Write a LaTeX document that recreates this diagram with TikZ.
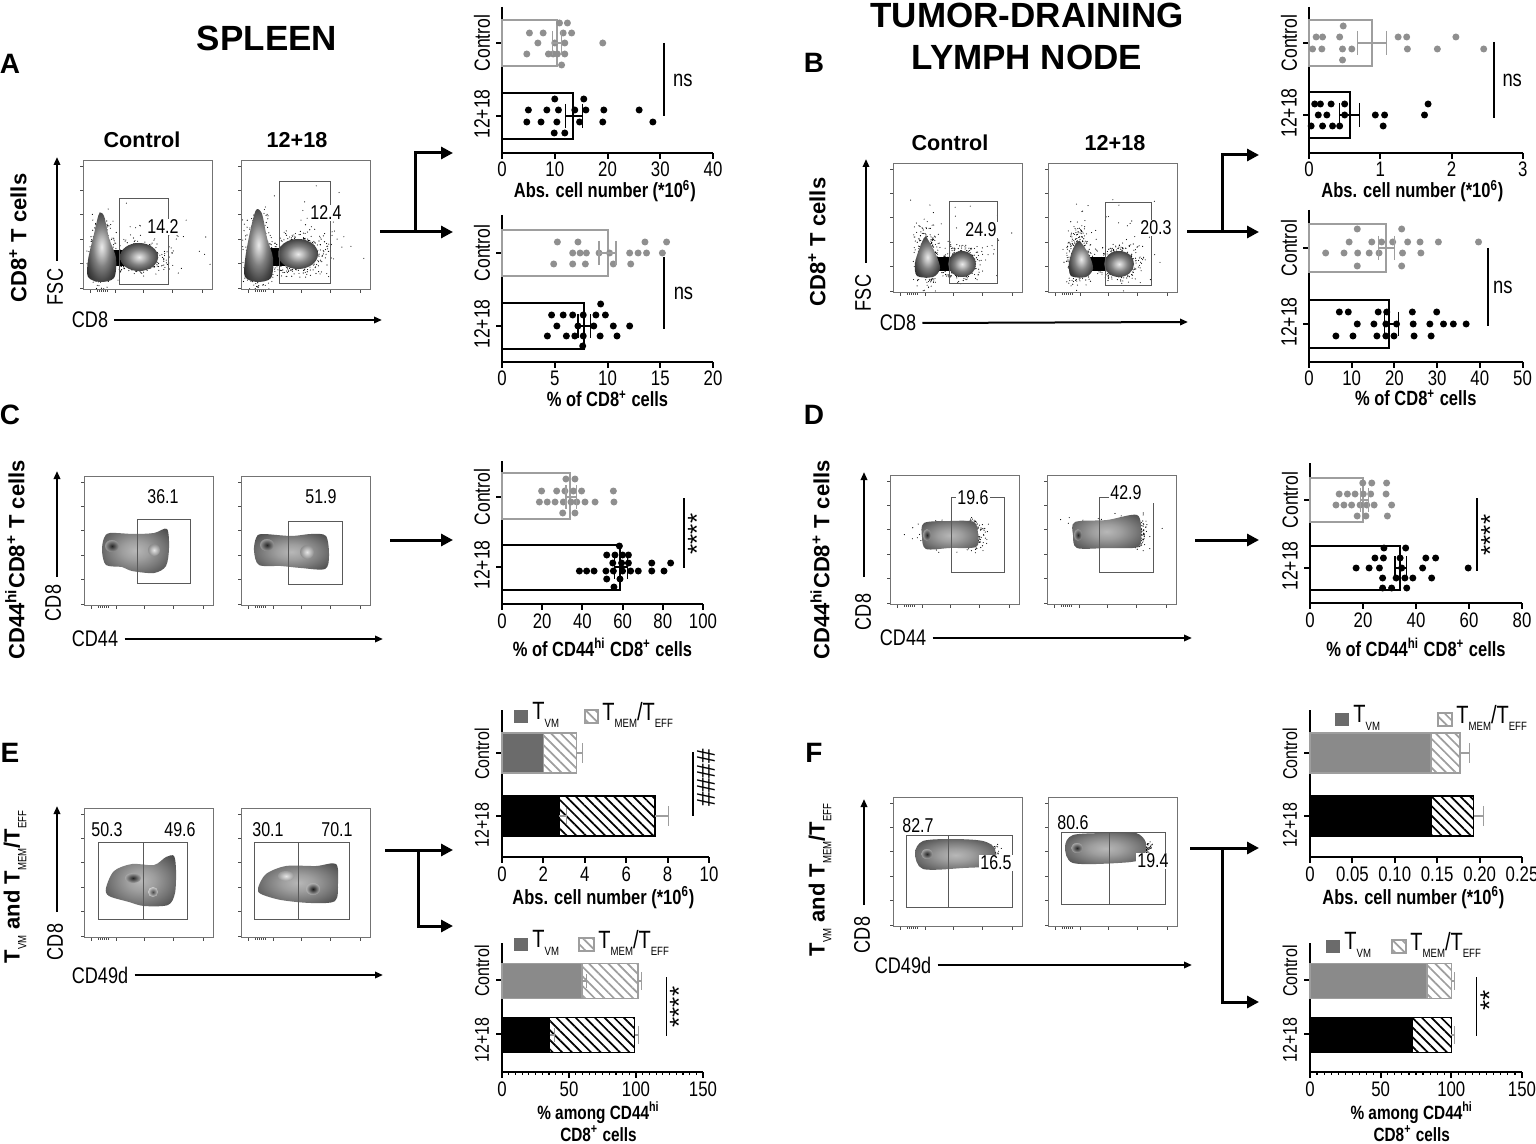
\documentclass[tikz,border=0pt]{standalone}
\usepackage{tikz}
\usepackage{fontspec}
\setmainfont{Liberation Sans}
\newfontfamily\nf[FakeStretch=0.8]{Liberation Sans}
\usetikzlibrary{arrows.meta,patterns.meta}

\definecolor{ctrl}{gray}{0.56}
\definecolor{ctrlline}{gray}{0.62}
\definecolor{tvmdark}{gray}{0.42}
\definecolor{tvmmid}{gray}{0.54}
\definecolor{gateline}{gray}{0.35}

\pgfdeclareradialshading{blob}{\pgfpoint{0bp}{0bp}}{%
  color(0bp)=(black!8); color(6bp)=(black!25); color(14bp)=(black!50);
  color(24bp)=(black!72); color(34bp)=(black!88); color(44bp)=(black); color(50bp)=(black)}
\pgfdeclareradialshading{contour}{\pgfpoint{0bp}{0bp}}{%
  color(0bp)=(black!28); color(10bp)=(black!38); color(20bp)=(black!52);
  color(32bp)=(black!70); color(42bp)=(black!90); color(47bp)=(black); color(50bp)=(black)}

\newcommand{\subtext}[1]{\raisebox{-0.3em}{\nf\mdseries\fontsize{6}{6}\selectfont #1}}

\tikzset{
  panel/.style={font=\bfseries\fontsize{14}{14}\selectfont},
  heading/.style={font=\bfseries\fontsize{17.5}{21}\selectfont, align=center},
  head/.style={font=\bfseries\fontsize{10.8}{12}\selectfont},
  celltype/.style={font=\bfseries\fontsize{11}{12}\selectfont, rotate=90},
  marker/.style={font=\nf\fontsize{11.3}{12}\selectfont, inner sep=1pt},
  gatelab/.style={font=\nf\fontsize{10}{10}\selectfont, inner sep=0.6pt, fill=white},
  ticklab/.style={font=\nf\fontsize{10.5}{11}\selectfont, inner sep=0pt, anchor=base},
  axtitle/.style={font=\nf\bfseries\fontsize{10.3}{10}\selectfont, anchor=base, inner sep=0pt},
  smalltitle/.style={font=\nf\bfseries\fontsize{9.6}{10}\selectfont},
  catlab/.style={font=\nf\fontsize{11}{11}\selectfont, rotate=90},
  smallcat/.style={font=\nf\fontsize{10}{10}\selectfont},
  sig/.style={font=\nf\fontsize{11.5}{12}\selectfont},
  stars/.style={font=\fontsize{13}{13}\selectfont, rotate=90, inner sep=0pt},
  legtext/.style={font=\nf\fontsize{12.5}{12}\selectfont, anchor=west, inner sep=1pt},
  plotbox/.style={draw=black!55, line width=0.4pt, inner sep=0pt, minimum size=64.5pt, anchor=north west},
  gate/.style={draw=gateline, line width=0.45pt},
  feed/.style={line width=1.5pt, -{Triangle[length=6pt,width=6pt]}},
  flowaxis/.style={line width=1pt, -{Triangle[length=4pt,width=3.2pt]}},
  axisline/.style={line width=1pt},
  ctrlbar/.style={draw=ctrlline, line width=1pt},
  stimbar/.style={draw=black, line width=1pt},
  semline/.style={line width=0.6pt},
  sigline/.style={line width=1pt},
  thinsig/.style={line width=0.7pt},
}

% flow plot frame with its axis ticks
\newcommand{\flowframe}[3]{%
  \node[plotbox] (#1) at (#2,#3) {};
  \foreach \k in {0,...,5}
    \draw[black!70, line width=0.4pt] ([yshift={-3pt-\k*12.2pt}]#1.north west) -- ++(-1.5pt,0pt);
  \foreach \k in {7,32,60,89,119}
    \draw[black!70, line width=0.4pt] ([xshift={\k*0.5pt}]#1.south west) -- ++(0pt,-1.5pt);
  \foreach \k in {14,16,...,24}
    \draw[black!70, line width=0.4pt] ([xshift={\k*0.5pt}]#1.south west) -- ++(0pt,-1pt);
}
% scattered events
\newcommand{\spray}[5]{%
  \foreach \i in {1,...,#5}{%
    \pgfmathsetmacro\spx{#1+#3*(rand+rand+rand)/1.7}%
    \pgfmathsetmacro\spy{#2+#4*(rand+rand+rand)/1.7}%
    \fill (\spx,\spy) circle[radius=0.28pt];}}
% bar chart axes: name, xmax, ticks, top, y control, y 12+18, label y's, label style
\newcommand{\chartaxes}[9]{%
  \draw[axisline] (0,#4) -- (0,0) -- (#2,0);
  \foreach \v/\l [count=\i] in {#3}{
    \draw[axisline] (\v,0) -- ++(0pt,-3pt);
    \node[ticklab] (#1-t\i) at ([yshift=-12pt]\v,0) {\l};}
  \draw[axisline] (0,#5) -- ++(-3pt,0pt) (0,#6) -- ++(-3pt,0pt);
  \node[catlab,#9] (#1-ctrl) at ([xshift=-10pt]0,#7) {Control};
  \node[catlab,#9] (#1-stim) at ([xshift=-10pt]0,#8) {12+18};}
\newcommand{\dotrow}[3]{\foreach \v in {#3} \fill[#1] (\v,#2) circle[radius=1.75pt];}
\newcommand{\sem}[4]{\draw[semline,#1] (#2,#4) -- (#3,#4) (#2,#4-12) -- (#2,#4+12) (#3,#4-12) -- (#3,#4+12);}
\newcommand{\stackbar}[7]{%
  \fill[#1] (0,#6-#7) rectangle (#4,#6+#7);
  \fill[white] (#4,#6-#7) rectangle (#5,#6+#7);
  \fill[pattern={Lines[angle=-45,distance=3.4pt,line width=0.85pt]}, pattern color=#2] (#4,#6-#7) rectangle (#5,#6+#7);
  \draw[#3, line width=0.8pt] (0,#6-#7) rectangle (#5,#6+#7) (#4,#6-#7) -- (#4,#6+#7);}
\newcommand{\errcap}[5]{\draw[semline,#1] (#2,#4) -- (#3,#4) (#3,#4-#5) -- (#3,#4+#5);}

\begin{document}
\begin{tikzpicture}[x=0.5pt,y=-0.5pt]
\useasboundingbox[fill=white] (0,0) rectangle (1536,1144);

% titles and panel letters
\node[heading] (spleen) at (267,38) {SPLEEN};
\node[heading] (tdln) at (1027,36) {TUMOR-DRAINING\\LYMPH NODE};
\node[panel] (pa) at (10,64) {A};
\node[panel] (pb) at (814,63) {B};
\node[panel] (pc) at (10,415) {C};
\node[panel] (pd) at (814,415) {D};
\node[panel] (pe) at (10,753) {E};
\node[panel] (pf) at (814,753) {F};

% ===== A: flow =====
\node[head] (a-h1) at (142,140) {Control};
\node[head] (a-h2) at (297,140) {12+18};
\node[celltype] (a-cell) at (18,238) {CD8\textsuperscript{+} T cells};
\flowframe{fa1}{83}{160}
\flowframe{fa2}{241}{160}
\begin{scope}[shift={(83,160)}]
  \clip (0,0) rectangle (129,129);
  \pgfmathsetseed{3}
  \spray{18}{92}{9}{28}{420}
  \spray{55}{98}{24}{12}{420}
  \spray{70}{90}{45}{30}{50}
  \fill[black] (24,90) rectangle (44,106);
  \shade[shading=blob] plot[smooth cycle] coordinates {(5,100) (11,74) (16,54) (21,56) (26,78) (33,98) (31,118) (17,122) (5,117)};
  \shade[shading=blob] (56,97) ellipse[x radius=19, y radius=14];
\end{scope}
\begin{scope}[shift={(241,160)}]
  \clip (0,0) rectangle (129,129);
  \pgfmathsetseed{5}
  \spray{17}{90}{10}{30}{440}
  \spray{55}{95}{26}{16}{480}
  \spray{70}{80}{40}{35}{60}
  \fill[black] (24,88) rectangle (44,106);
  \shade[shading=blob] plot[smooth cycle] coordinates {(4,100) (9,72) (15,50) (21,54) (26,78) (32,98) (30,118) (16,122) (4,117)};
  \shade[shading=blob] (57,94) ellipse[x radius=20, y radius=15];
\end{scope}
\draw[gate] (119,198) rectangle (168,284);
\node[gatelab] (ga1) at (163,227) {14.2};
\draw[gate] (279,181) rectangle (330,283);
\node[gatelab] (ga2) at (326,213) {12.4};
\node[marker, rotate=90] (a-fsc) at (55,287) {FSC};
\coordinate (a-ybase) at (57,261);
\coordinate (a-ytip) at (57,157);
\draw[flowaxis] (a-ybase) -- (a-ytip);
\node[marker] (a-cd8) at (90,320) {CD8};
\coordinate (a-xtip) at (382,320);
\draw[flowaxis] ([xshift=2pt]a-cd8.east) -- (a-xtip);
% connector
\coordinate (a-out) at (380,232);
\coordinate (a-fork) at (415,232);
\coordinate (a-in1) at (453,153);
\coordinate (a-in2) at (453,232);
\draw[feed] (a-out) -- (a-in2);
\draw[feed] (a-fork) |- (a-in1);

% ===== A: charts =====
\begin{scope}[shift={(502,153)}, x=2.6375pt]
  \chartaxes{a1}{40}{0/0,10/10,20/20,30/30,40/40}{-146}{-110}{-37}{-110}{-39}{}
  \draw[ctrlbar] (0,-133) rectangle (10.4,-87);
  \draw[stimbar] (0,-60) rectangle (13.4,-14);
  \dotrow{ctrl}{-130}{10.9,12.4}
  \dotrow{ctrl}{-120}{5.2,7.8,11.6,13.2}
  \dotrow{ctrl}{-110}{6.8,10.0,11.9,19.1}
  \dotrow{ctrl}{-99}{4.7,8.8,9.7,10.5,11.9}
  \dotrow{ctrl}{-88}{11.3}
  \dotrow{black}{-54}{10.0,15.5}
  \dotrow{black}{-43}{5.0,8.5,10.7,13.8,15.9,19.3,26.0}
  \dotrow{black}{-31}{4.7,7.4,10.4,14.7,19.1,28.6}
  \dotrow{black}{-20}{9.9,11.9}
  \sem{ctrlline}{9.5}{11.3}{-110}
  \sem{black}{12.0}{15.3}{-37}
  \draw[sigline] (30.8,-110) -- (30.8,-37);
  \node[sig] (a1-ns) at (34.3,-73) {ns};
  \node[axtitle] (a1-title) at (19.5,45) {Abs. cell number (*10\textsuperscript{6})};
\end{scope}
\begin{scope}[shift={(502,362)}, x=5.275pt]
  \chartaxes{a2}{20}{0/0,5/5,10/10,15/15,20/20}{-147}{-109}{-36}{-109}{-38}{}
  \draw[ctrlbar] (0,-132) rectangle (10.0,-86);
  \draw[stimbar] (0,-59) rectangle (7.8,-13);
  \dotrow{ctrl}{-120}{5.25,7.2,13.55,15.6}
  \dotrow{ctrl}{-109}{6.7,7.4,8.0,9.2,10.2,12.1,12.9,13.7,15.2}
  \dotrow{ctrl}{-98}{4.9,6.7,7.9,10.55,12.2}
  \dotrow{black}{-58}{9.35}
  \dotrow{black}{-47}{4.7,5.8,6.7,7.7,8.9,9.8}
  \dotrow{black}{-36}{5.2,7.2,8.7,10.55,12.1}
  \dotrow{black}{-26}{4.3,6.1,6.9,7.7,9.3,10.9}
  \dotrow{black}{-16}{7.65}
  \sem{ctrlline}{9.2}{10.8}{-109}
  \sem{black}{7.2}{8.4}{-36}
  \draw[sigline] (15.4,-105) -- (15.4,-33);
  \node[sig] (a2-ns) at (17.2,-69) {ns};
  \node[axtitle] (a2-title) at (10,45) {\% of CD8\textsuperscript{+} cells};
\end{scope}

% ===== B: flow =====
\node[head] (b-h1) at (950,143) {Control};
\node[head] (b-h2) at (1115,143) {12+18};
\node[celltype] (b-cell) at (817,242) {CD8\textsuperscript{+} T cells};
\flowframe{fb1}{893}{163}
\flowframe{fb2}{1048}{163}
\begin{scope}[shift={(893,163)}]
  \clip (0,0) rectangle (129,129);
  \pgfmathsetseed{7}
  \spray{33}{92}{10}{26}{320}
  \spray{68}{100}{16}{14}{380}
  \spray{70}{80}{45}{35}{40}
  \fill[black] (38,94) rectangle (58,108);
  \shade[shading=blob] plot[smooth cycle] coordinates {(22,100) (27,84) (32,74) (37,80) (44,94) (47,106) (40,114) (24,113)};
  \shade[shading=blob] (69,101) ellipse[x radius=14, y radius=13];
\end{scope}
\begin{scope}[shift={(1048,163)}]
  \clip (0,0) rectangle (129,129);
  \pgfmathsetseed{9}
  \spray{31}{94}{10}{24}{320}
  \spray{70}{100}{17}{14}{380}
  \spray{70}{80}{45}{35}{40}
  \fill[black] (36,94) rectangle (58,108);
  \shade[shading=blob] plot[smooth cycle] coordinates {(21,100) (25,86) (30,78) (35,82) (42,94) (45,106) (38,114) (23,113)};
  \shade[shading=blob] (71,101) ellipse[x radius=15, y radius=13];
\end{scope}
\draw[gate] (949,201) rectangle (997,283);
\node[gatelab] (gb1) at (981,230) {24.9};
\draw[gate] (1105,202) rectangle (1151,285);
\node[gatelab] (gb2) at (1156,228) {20.3};
\node[marker, rotate=90] (b-fsc) at (863,293) {FSC};
\coordinate (b-ybase) at (866,263);
\coordinate (b-ytip) at (866,159);
\draw[flowaxis] (b-ybase) -- (b-ytip);
\node[marker] (b-cd8) at (898,323) {CD8};
\coordinate (b-xtip) at (1188,322);
\draw[flowaxis] ([xshift=2pt]b-cd8.east) -- (b-xtip);
\coordinate (b-out) at (1187,232);
\coordinate (b-fork) at (1222,232);
\coordinate (b-in1) at (1259,155);
\coordinate (b-in2) at (1259,232);
\draw[feed] (b-out) -- (b-in2);
\draw[feed] (b-fork) |- (b-in1);

% ===== B: charts =====
\begin{scope}[shift={(1309,153)}, x=35.65pt]
  \chartaxes{b1}{3}{0/0,1/1,2/2,3/3}{-146}{-110}{-38}{-110}{-40}{}
  \draw[ctrlbar] (0,-133) rectangle (0.88,-87);
  \draw[stimbar] (0,-61) rectangle (0.57,-15);
  \dotrow{ctrl}{-127}{0.48}
  \dotrow{ctrl}{-116}{0.10,0.19,0.43,1.25,1.37,2.06}
  \dotrow{ctrl}{-104}{0.05,0.18,0.47,0.60,1.38,1.80,2.45}
  \dotrow{ctrl}{-93}{0.47}
  \dotrow{black}{-49}{0.08,0.16,0.31,0.50,1.67}
  \dotrow{black}{-38}{0.13,0.25,0.50,0.93,1.06,1.62}
  \dotrow{black}{-27}{0.03,0.19,0.33,0.43,1.04}
  \sem{ctrlline}{0.68}{1.09}{-110}
  \sem{black}{0.43}{0.71}{-38}
  \draw[sigline] (2.6,-111) -- (2.6,-35);
  \node[sig] (b1-ns) at (2.85,-73) {ns};
  \node[axtitle] (b1-title) at (1.45,45) {Abs. cell number (*10\textsuperscript{6})};
\end{scope}
\begin{scope}[shift={(1309,362)}, x=2.135pt]
  \chartaxes{b2}{50}{0/0,10/10,20/20,30/30,40/40,50/50}{-152}{-114}{-38}{-114}{-40}{}
  \draw[ctrlbar] (0,-138) rectangle (18.0,-90);
  \draw[stimbar] (0,-62) rectangle (18.8,-14);
  \dotrow{ctrl}{-133}{11.3,21.7}
  \dotrow{ctrl}{-120}{9.4,14.7,17.0,19.6,23.1,26.0,30.3,39.7}
  \dotrow{ctrl}{-109}{3.9,8.2,11.4,14.1,16.4,21.9,26.2}
  \dotrow{ctrl}{-96}{11.3,21.7}
  \dotrow{black}{-50}{7.1,9.2,16.2,18.2,24.2,29.9}
  \dotrow{black}{-38}{11.3,15.2,18.0,20.5,24.4,28.3,31.5,33.8,36.8}
  \dotrow{black}{-26}{6.3,10.3,15.9,18.0,19.9,24.6,28.6}
  \sem{ctrlline}{16.3}{20.1}{-114}
  \sem{black}{17.6}{20.9}{-38}
  \draw[sigline] (42,-114) -- (42,-36);
  \node[sig] (b2-ns) at (45.4,-75) {ns};
  \node[axtitle] (b2-title) at (25,44) {\% of CD8\textsuperscript{+} cells};
\end{scope}

% ===== C: flow =====
\node[celltype] (c-cell) at (15,560) {CD44\textsuperscript{hi}CD8\textsuperscript{+} T cells};
\flowframe{fc1}{84}{476}
\flowframe{fc2}{241}{476}
\begin{scope}[shift={(84,476)}]
  \shade[shading=contour] plot[smooth cycle] coordinates {(20,62) (26,57) (50,58) (70,57) (83,53) (85,72) (82,90) (70,97) (48,95) (38,91) (22,89) (18,75)};
  \shade[inner color=black!85, outer color=black!40] (28,70) ellipse[x radius=7, y radius=6];
  \shade[inner color=black!10, outer color=black!45] (70,74) ellipse[x radius=6, y radius=6];
\end{scope}
\begin{scope}[shift={(241,476)}]
  \shade[shading=contour] plot[smooth cycle] coordinates {(15,62) (21,58) (50,60) (70,58) (85,60) (88,80) (84,93) (60,92) (40,90) (18,89) (13,75)};
  \shade[inner color=black!85, outer color=black!40] (26,69) ellipse[x radius=7, y radius=6];
  \shade[inner color=black!10, outer color=black!45] (66,76) ellipse[x radius=7, y radius=7];
\end{scope}
\draw[gate] (137,519) rectangle (190,583);
\node[gatelab] (gc1) at (163,497) {36.1};
\draw[gate] (288,521) rectangle (342,584);
\node[gatelab] (gc2) at (321,497) {51.9};
\node[marker, rotate=90] (c-y) at (53,603) {CD8};
\coordinate (c-ybase) at (57,577);
\coordinate (c-ytip) at (57,471);
\draw[flowaxis] (c-ybase) -- (c-ytip);
\node[marker] (c-x) at (95,639) {CD44};
\coordinate (c-xtip) at (383,639);
\draw[flowaxis] ([xshift=2pt]c-x.east) -- (c-xtip);
\coordinate (c-out) at (390,540);
\coordinate (c-in) at (453,540);
\draw[feed] (c-out) -- (c-in);

\begin{scope}[shift={(502,604)}, x=1.005pt]
  \chartaxes{cc}{100}{0/0,20/20,40/40,60/60,80/80,100/100}{-143}{-107}{-37}{-107}{-39}{}
  \draw[ctrlbar] (0,-131) rectangle (34,-85);
  \draw[stimbar] (0,-59) rectangle (58.7,-14);
  \dotrow{ctrl}{-125}{31.8,36.3}
  \dotrow{ctrl}{-113}{19.7,27.2,31.3,35.5,39.6,55.4}
  \dotrow{ctrl}{-102}{18.6,22.5,26.4,30.5,34.3,37.2,41.3,46.3,55.7}
  \dotrow{ctrl}{-91}{30.2,36.3}
  \dotrow{black}{-58}{58.4}
  \dotrow{black}{-49}{52.1,56.2,60.0,62.9}
  \dotrow{black}{-41}{55.1,59.5,62.9,74.5,83.9}
  \dotrow{black}{-33}{38.5,42.1,45.8,51.7,55.4,60,64,67.8,74.5,80.6}
  \dotrow{black}{-25}{52.1,58.7}
  \dotrow{black}{-17}{55.7}
  \sem{ctrlline}{31.8}{37.2}{-107}
  \sem{black}{56.0}{62.3}{-37}
  \draw[thinsig] (90.5,-106) -- (90.5,-36);
  \node[stars] (cc-sig) at (97,-70) {****};
  \node[axtitle] (cc-title) at (50,52) {\% of CD44\textsuperscript{hi} CD8\textsuperscript{+} cells};
\end{scope}

% ===== D: flow =====
\node[celltype] (d-cell) at (820,560) {CD44\textsuperscript{hi}CD8\textsuperscript{+} T cells};
\flowframe{fd1}{890}{475}
\flowframe{fd2}{1047}{475}
\begin{scope}[shift={(890,475)}]
  \clip (0,0) rectangle (129,129);
  \pgfmathsetseed{13}
  \spray{84}{60}{9}{12}{180}
  \spray{60}{60}{30}{12}{90}
  \shade[shading=contour] plot[smooth cycle] coordinates {(34,48) (60,46) (84,47) (88,60) (86,72) (60,73) (36,74) (32,62)};
  \shade[inner color=black!85, outer color=black!40] (37,60) ellipse[x radius=4, y radius=6];
\end{scope}
\begin{scope}[shift={(1047,475)}]
  \clip (0,0) rectangle (129,129);
  \pgfmathsetseed{17}
  \spray{90}{58}{8}{12}{180}
  \spray{60}{55}{35}{14}{90}
  \shade[shading=contour] plot[smooth cycle] coordinates {(28,47) (60,45) (90,40) (94,58) (91,72) (60,73) (30,73) (26,60)};
  \shade[inner color=black!85, outer color=black!40] (31,60) ellipse[x radius=4, y radius=6];
\end{scope}
\draw[gate] (951,497) rectangle (1004,572);
\node[gatelab] (gd1) at (973,498) {19.6};
\draw[gate] (1153,503) -- (1153,572) -- (1099,572) -- (1099,497) -- (1140,497);
\node[gatelab] (gd2) at (1126,493) {42.9};
\node[marker, rotate=90] (d-y) at (863,612) {CD8};
\coordinate (d-ybase) at (864,577);
\coordinate (d-ytip) at (864,472);
\draw[flowaxis] (d-ybase) -- (d-ytip);
\node[marker] (d-x) at (903,638) {CD44};
\coordinate (d-xtip) at (1192,638);
\draw[flowaxis] ([xshift=2pt]d-x.east) -- (d-xtip);
\coordinate (d-out) at (1195,540);
\coordinate (d-in) at (1259,540);
\draw[feed] (d-out) -- (d-in);

\begin{scope}[shift={(1310,603)}, x=1.325pt]
  \chartaxes{dd}{80}{0/0,20/20,40/40,60/60,80/80}{-140}{-103}{-35}{-103}{-37}{}
  \draw[ctrlbar] (0,-125) rectangle (20,-81);
  \draw[stimbar] (0,-57) rectangle (34,-13);
  \dotrow{ctrl}{-120}{19.9,23.3,28.9}
  \dotrow{ctrl}{-109}{11.0,14.1,17.0,20.1,22.9,28.7}
  \dotrow{ctrl}{-98}{9.8,12.8,15.7,18.9,21.4,24.2,30.8}
  \dotrow{ctrl}{-87}{17.8,21.1,29.2}
  \dotrow{black}{-55}{27.9,36.1}
  \dotrow{black}{-45}{24.5,27.7,34,43.7,47.4}
  \dotrow{black}{-35}{17.4,22.3,26.2,34.6,42.5,59.7}
  \dotrow{black}{-25}{27.4,32.5,35.8,38.8,45.9}
  \dotrow{black}{-15}{27.4,30.8,36.5}
  \sem{ctrlline}{18.9}{22.0}{-103}
  \sem{black}{32.1}{36.5}{-35}
  \draw[thinsig] (63,-105) -- (63,-32);
  \node[stars] (dd-sig) at (68,-68) {****};
  \node[axtitle] (dd-title) at (40,53) {\% of CD44\textsuperscript{hi} CD8\textsuperscript{+} cells};
\end{scope}

% ===== E: flow =====
\node[celltype] (e-cell) at (15,887) {T\subtext{VM} and T\subtext{MEM}/T\subtext{EFF}};
\flowframe{fe1}{84}{808}
\flowframe{fe2}{241}{808}
\begin{scope}[shift={(84,808)}]
  \shade[shading=contour] plot[smooth cycle] coordinates {(22,80) (30,63) (48,56) (70,57) (82,49) (90,48) (92,62) (91,85) (84,97) (60,98) (45,94) (25,88)};
  \shade[inner color=black!85, outer color=black!35] (49,70) ellipse[x radius=8, y radius=5];
  \shade[inner color=black!70, outer color=black!20] (69,84) ellipse[x radius=5, y radius=5];
\end{scope}
\begin{scope}[shift={(241,808)}]
  \shade[shading=contour] plot[smooth cycle] coordinates {(17,80) (25,66) (45,58) (75,58) (95,56) (97,75) (94,93) (70,95) (40,92) (20,86)};
  \shade[inner color=black!10, outer color=black!40] (45,68) ellipse[x radius=8, y radius=5];
  \shade[inner color=black!90, outer color=black!30] (72,81) ellipse[x radius=7, y radius=6];
\end{scope}
\draw[gate] (98,842) rectangle (187,919) (143,842) -- (143,919);
\node[gatelab] (ge1) at (107,830) {50.3};
\node[gatelab] (ge2) at (180,830) {49.6};
\draw[gate] (254,842) rectangle (349,919) (298,842) -- (298,919);
\node[gatelab] (ge3) at (268,830) {30.1};
\node[gatelab] (ge4) at (337,830) {70.1};
\node[marker, rotate=90] (e-y) at (55,942) {CD8};
\coordinate (e-ybase) at (57,912);
\coordinate (e-ytip) at (57,806);
\draw[flowaxis] (e-ybase) -- (e-ytip);
\node[marker] (e-x) at (100,975) {CD49d};
\coordinate (e-xtip) at (383,975);
\draw[flowaxis] ([xshift=2pt]e-x.east) -- (e-xtip);
\coordinate (e-out) at (385,850);
\coordinate (e-fork) at (418,850);
\coordinate (e-in1) at (453,850);
\coordinate (e-in2) at (453,926);
\draw[feed] (e-out) -- (e-in1);
\draw[feed] (e-fork) |- (e-in2);

% ===== E: charts =====
\fill[tvmdark] (514,710) rectangle (528,723);
\node[legtext] (e1-l1) at (530,715) {T\subtext{VM}};
\fill[white] (585,710) rectangle (598,723);
\fill[pattern={Lines[angle=-45,distance=3.4pt,line width=0.85pt]}, pattern color=ctrlline] (585,710) rectangle (598,723);
\draw[ctrlline, line width=0.6pt] (585,710) rectangle (598,723);
\node[legtext] (e1-l2) at (600,715) {T\subtext{MEM}/T\subtext{EFF}};
\begin{scope}[shift={(502,857)}, x=10.35pt]
  \chartaxes{e1}{10}{0/0,2/2,4/4,6/6,8/8,10/10}{-147}{-104}{-41}{-103}{-32}{smallcat}
  \stackbar{tvmdark}{ctrlline}{ctrlline}{2.0}{3.6}{-104}{20}
  \stackbar{black}{black}{black}{2.75}{7.4}{-41}{20}
  \errcap{ctrlline}{3.6}{3.9}{-104}{10}
  \errcap{ctrlline}{7.4}{8.05}{-41}{10}
  \errcap{black!40}{2.75}{3.1}{-41}{8}
  \draw[sigline] (9.25,-105) -- (9.25,-41);
  \node[stars] (e1-sig) at (9.85,-79) {\#\#\#\#};
  \node[axtitle] (e1-title) at (4.9,47) {Abs. cell number (*10\textsuperscript{6})};
\end{scope}
\fill[tvmdark] (514,938) rectangle (528,951);
\node[legtext] (e2-l1) at (530,943) {T\subtext{VM}};
\fill[white] (579,938) rectangle (594,951);
\fill[pattern={Lines[angle=-45,distance=3.4pt,line width=0.85pt]}, pattern color=ctrlline] (579,938) rectangle (594,951);
\draw[ctrlline, line width=0.6pt] (579,938) rectangle (594,951);
\node[legtext] (e2-l2) at (596,943) {T\subtext{MEM}/T\subtext{EFF}};
\begin{scope}[shift={(502,1072)}, x=0.67pt]
  \chartaxes{e2}{150}{0/0,50/50,100/100,150/150}{-129}{-92}{-38}{-101}{-32}{smallcat}
  \foreach \v in {5,10,...,145} \draw[line width=0.6pt] (\v,0) -- ++(0pt,-1.5pt);
  \stackbar{tvmmid}{ctrlline}{ctrlline}{59.5}{101.5}{-91}{17.5}
  \stackbar{black}{black}{black}{35.5}{99}{-37}{17.5}
  \errcap{ctrlline}{101.5}{104}{-91}{9}
  \errcap{ctrlline}{99}{102}{-37}{9}
  \errcap{black!40}{59.5}{63}{-91}{7}
  \errcap{black!40}{35.5}{39}{-37}{7}
  \draw[thinsig] (122.6,-95) -- (122.6,-36);
  \node[stars] (e2-sig) at (132,-65) {****};
  \node[axtitle,smalltitle] (e2-title) at (72,47) {\% among CD44\textsuperscript{hi}};
  \node[axtitle,smalltitle] (e2-title2) at (72,69) {CD8\textsuperscript{+} cells};
\end{scope}

% ===== F: flow =====
\node[celltype] (f-cell) at (820,880) {T\subtext{VM} and T\subtext{MEM}/T\subtext{EFF}};
\flowframe{ff1}{893}{797}
\flowframe{ff2}{1048}{797}
\begin{scope}[shift={(893,797)}]
  \clip (0,0) rectangle (129,129);
  \pgfmathsetseed{19}
  \spray{98}{58}{7}{8}{140}
  \shade[shading=contour] plot[smooth cycle] coordinates {(22,56) (30,44) (60,42) (90,44) (102,52) (98,68) (70,71) (30,72)};
  \shade[inner color=black!85, outer color=black!35] (34,57) ellipse[x radius=6, y radius=5];
\end{scope}
\begin{scope}[shift={(1048,797)}]
  \clip (0,0) rectangle (129,129);
  \pgfmathsetseed{23}
  \spray{95}{52}{7}{8}{140}
  \shade[shading=contour] plot[smooth cycle] coordinates {(17,50) (25,38) (60,36) (88,36) (98,46) (94,62) (70,66) (25,66)};
  \shade[inner color=black!85, outer color=black!35] (29,51) ellipse[x radius=6, y radius=5];
\end{scope}
\draw[gate] (906,835) rectangle (1012,907) (948,835) -- (948,907);
\node[gatelab] (gf1) at (918,826) {82.7};
\node[gatelab] (gf2) at (996,863) {16.5};
\draw[gate] (1061,832) rectangle (1165,904) (1109,832) -- (1109,904);
\node[gatelab] (gf3) at (1073,823) {80.6};
\node[gatelab] (gf4) at (1153,861) {19.4};
\node[marker, rotate=90] (f-y) at (862,935) {CD8};
\coordinate (f-ybase) at (864,905);
\coordinate (f-ytip) at (864,799);
\draw[flowaxis] (f-ybase) -- (f-ytip);
\node[marker] (f-x) at (903,965) {CD49d};
\coordinate (f-xtip) at (1192,965);
\draw[flowaxis] ([xshift=2pt]f-x.east) -- (f-xtip);
\coordinate (f-out) at (1190,848);
\coordinate (f-fork) at (1222,848);
\coordinate (f-in1) at (1259,848);
\coordinate (f-in2) at (1259,1002);
\draw[feed] (f-out) -- (f-in1);
\draw[feed] (f-fork) |- (f-in2);

% ===== F: charts =====
\fill[tvmdark] (1335,713) rectangle (1349,726);
\node[legtext] (f1-l1) at (1351,718) {T\subtext{VM}};
\fill[white] (1438,713) rectangle (1452,726);
\fill[pattern={Lines[angle=-45,distance=3.4pt,line width=0.85pt]}, pattern color=ctrlline] (1438,713) rectangle (1452,726);
\draw[ctrlline, line width=0.6pt] (1438,713) rectangle (1452,726);
\node[legtext] (f1-l2) at (1454,718) {T\subtext{MEM}/T\subtext{EFF}};
\begin{scope}[shift={(1310,857)}, x=424pt]
  \chartaxes{f1}{0.25}{0/0,0.05/0.05,0.1/0.10,0.15/0.15,0.2/0.20,0.25/0.25}{-147}{-104}{-41}{-103}{-32}{smallcat}
  \stackbar{tvmmid}{ctrlline}{ctrlline}{0.143}{0.177}{-104}{20}
  \stackbar{black}{black}{black}{0.143}{0.193}{-41}{20}
  \errcap{ctrlline}{0.177}{0.188}{-104}{10}
  \errcap{ctrlline}{0.193}{0.205}{-41}{10}
  \node[axtitle] (f1-title) at (0.122,47) {Abs. cell number (*10\textsuperscript{6})};
\end{scope}
\fill[tvmdark] (1326,940) rectangle (1340,953);
\node[legtext] (f2-l1) at (1342,945) {T\subtext{VM}};
\fill[white] (1392,940) rectangle (1406,953);
\fill[pattern={Lines[angle=-45,distance=3.4pt,line width=0.85pt]}, pattern color=ctrlline] (1392,940) rectangle (1406,953);
\draw[ctrlline, line width=0.6pt] (1392,940) rectangle (1406,953);
\node[legtext] (f2-l2) at (1408,945) {T\subtext{MEM}/T\subtext{EFF}};
\begin{scope}[shift={(1310,1072)}, x=0.7065pt]
  \chartaxes{f2}{150}{0/0,50/50,100/100,150/150}{-129}{-92}{-38}{-101}{-32}{smallcat}
  \foreach \v in {5,10,...,145} \draw[line width=0.6pt] (\v,0) -- ++(0pt,-1.5pt);
  \stackbar{tvmmid}{ctrlline}{ctrlline}{83}{100}{-91}{17.5}
  \stackbar{black}{black}{black}{72}{100}{-37}{17.5}
  \errcap{ctrlline}{100}{102.5}{-91}{9}
  \errcap{ctrlline}{100}{102.5}{-37}{9}
  \draw[thinsig] (118,-95) -- (118,-36);
  \node[stars] (f2-sig) at (127,-72) {**};
  \node[axtitle,smalltitle] (f2-title) at (72,47) {\% among CD44\textsuperscript{hi}};
  \node[axtitle,smalltitle] (f2-title2) at (72,69) {CD8\textsuperscript{+} cells};
\end{scope}
\end{tikzpicture}
\end{document}
